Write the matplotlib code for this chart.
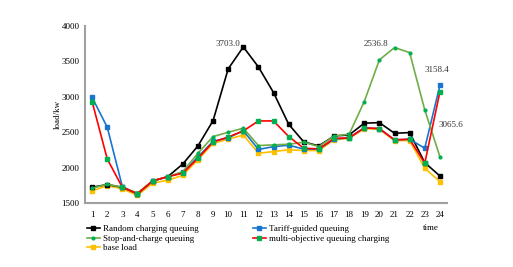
import numpy as np
import matplotlib.pyplot as plt

plt.rcParams['font.family'] = ['Liberation Serif', 'DejaVu Serif']

hours = np.arange(1, 25)

random_q = [1720, 1760, 1720, 1630, 1810, 1870, 2050, 2305, 2662, 3393, 3703, 3420,
            3058, 2611, 2361, 2305, 2446, 2460, 2626, 2634, 2484, 2493, 2069, 1881]
tariff_q = [2990, 2569, 1730, 1627, 1810, 1870, 1930, 2150, 2370, 2420, 2520, 2255,
            2295, 2315, 2260, 2260, 2400, 2420, 2560, 2550, 2390, 2400, 2272, 3158.4]
stop_q = [1707, 1764, 1720, 1640, 1810, 1870, 1942, 2202, 2437, 2498, 2555, 2310,
          2320, 2329, 2357, 2295, 2446, 2470, 2931, 3520, 3694, 3623, 2814, 2154]
multi_q = [2931, 2121, 1720, 1630, 1810, 1870, 1920, 2130, 2360, 2430, 2517, 2658,
           2658, 2437, 2272, 2263, 2410, 2420, 2560, 2550, 2390, 2400, 2060, 3065.6]
base_load = [1669, 1745, 1700, 1605, 1780, 1820, 1890, 2110, 2340, 2400, 2460, 2202,
             2225, 2250, 2240, 2240, 2390, 2410, 2550, 2540, 2380, 2380, 1990, 1801]

fig = plt.figure(figsize=(5.13, 2.67), dpi=100)
ax = fig.add_axes([0.166, 0.24, 0.705, 0.663])

lw = 1.2
ms = 2.6
h_rand, = ax.plot(hours, random_q, '-s', color='black', lw=lw, ms=ms, label='Random charging queuing')
h_tar, = ax.plot(hours, tariff_q, '-s', color='#1A75CF', lw=lw, ms=ms, label='Tariff-guided queuing')
h_stop, = ax.plot(hours, stop_q, '-o', color='#70AD47', mfc='#00B050', mec='#00B050', lw=lw, ms=2.0,
                  label='Stop-and-charge queuing')
h_multi, = ax.plot(hours, multi_q, '-s', color='#FF0000', mfc='#00B050', mec='#00B050', lw=lw, ms=ms,
                   label='multi-objective queuing charging')
h_base, = ax.plot(hours, base_load, '-s', color='#FFC000', mfc='#FFC000', mec='#FFC000', lw=lw, ms=ms,
                  label='base load')
# base load sits under the other curves
h_base.set_zorder(1.5)

ax.set_xlim(0.54, 24.46)
ax.set_ylim(1500, 4000)
ax.set_xticks(hours)
ax.set_yticks(np.arange(1500, 4001, 500))
ax.tick_params(length=0, labelsize=6.5)
ax.tick_params(axis='x', pad=6)
ax.tick_params(axis='y', pad=4)
for s in ['top', 'right']:
    ax.spines[s].set_visible(False)
for s in ['left', 'bottom']:
    ax.spines[s].set_color('#A0A0A0')
    ax.spines[s].set_linewidth(1.5)

ax.set_ylabel('load/kw', fontsize=6.5, labelpad=0)
fig.text(0.825, 0.147, 'time', fontsize=6.5, va='center')

txt = dict(fontsize=6.5, color='#333333', ha='center', va='center', clip_on=False)
ax.text(9.97, 3746, '3703.0', **txt)
ax.text(19.8, 3746, '2536.8', **txt)
ax.text(23.8, 3378, '3158.4', **txt)
ax.text(24.73, 2602, '3065.6', **txt)

handles = [h_rand, h_stop, h_base, h_tar, h_multi]
fig.legend(handles=handles, labels=[h.get_label() for h in handles], ncol=2,
           loc='upper left', bbox_to_anchor=(0.16, 0.175), frameon=False,
           fontsize=6.5, handlelength=1.5, handletextpad=0.3, labelspacing=0.15,
           columnspacing=6.0, borderpad=0)

fig.savefig('out.png', dpi=100)
